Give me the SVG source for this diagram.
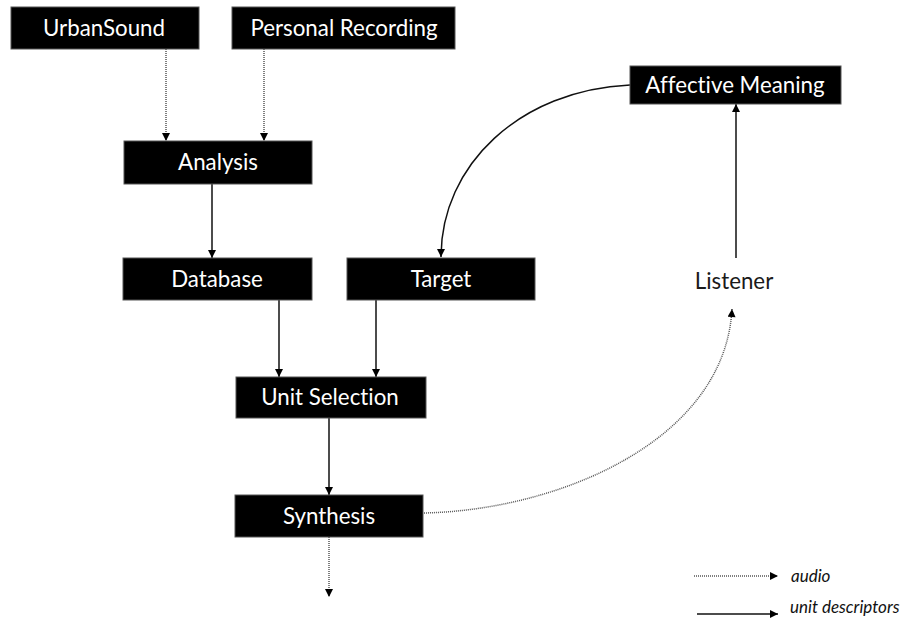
<svg xmlns="http://www.w3.org/2000/svg" width="903" height="620" viewBox="0 0 903 620">
<style>
  .box { fill: #000; stroke: #555; stroke-width: 1; }
  .lbl { font-family: Lato, "Liberation Sans", sans-serif; font-size: 22.3px; fill: #fff; text-anchor: middle; font-variant-ligatures: none; }
  .plain { font-family: Lato, "Liberation Sans", sans-serif; font-size: 22.3px; fill: #1a1a1a; text-anchor: middle; }
  .leg { font-family: Lato, "Liberation Sans", sans-serif; font-size: 17px; font-style: italic; fill: #111; }
  .solid { fill: none; stroke: #111; stroke-width: 1.5; marker-end: url(#ah); }
  .dot { fill: none; stroke: #555; stroke-width: 1.5; stroke-dasharray: 1 1; marker-end: url(#ah); }
</style>
<defs>
  <marker id="ah" viewBox="0 0 10 10" refX="10" refY="5" markerWidth="9" markerHeight="8" markerUnits="userSpaceOnUse" orient="auto">
    <path d="M0,0 L10,5 L0,10 Z" fill="#000"/>
  </marker>
</defs>
<rect width="903" height="620" fill="#fff"/>
<g id="connectors">
  <path class="dot" d="M166,49 L166,141"/>
  <path class="dot" d="M264,49 L264,141"/>
  <path class="solid" d="M212,184 L212,258"/>
  <path class="solid" d="M279,300 L279,377"/>
  <path class="solid" d="M376,300 L376,377"/>
  <path class="solid" d="M329,418 L329,495"/>
  <path class="dot" d="M329,537 L329,597"/>
  <path class="dot" d="M424,513 C560,510 725,440 732,309"/>
  <path class="solid" d="M736,258 L736,104"/>
  <path class="solid" d="M630,85 C520,90 441,165 441,257"/>
</g>
<g id="urbansound"><rect class="box" x="11" y="7" width="188" height="42"/><text class="lbl" x="104" y="36">UrbanSound</text></g>
<g id="personal-recording"><rect class="box" x="232" y="7" width="223" height="42"/><text class="lbl" x="344" y="36">Personal Recording</text></g>
<g id="analysis"><rect class="box" x="124" y="141" width="188" height="43"/><text class="lbl" x="218" y="170">Analysis</text></g>
<g id="database"><rect class="box" x="123" y="258" width="189" height="42"/><text class="lbl" x="217" y="287">Database</text></g>
<g id="target"><rect class="box" x="347" y="258" width="188" height="42"/><text class="lbl" x="441" y="287">Target</text></g>
<g id="unit-selection"><rect class="box" x="236" y="377" width="190" height="41"/><text class="lbl" x="330" y="405">Unit Selection</text></g>
<g id="synthesis"><rect class="box" x="235" y="495" width="188" height="42"/><text class="lbl" x="329" y="524">Synthesis</text></g>
<g id="affective-meaning"><rect class="box" x="630" y="66" width="211" height="38"/><text class="lbl" x="735" y="93">Affective Meaning</text></g>
<g id="listener"><text class="plain" x="734" y="289">Listener</text></g>
<g id="legend">
  <path class="dot" d="M694,576 L778,576"/>
  <text class="leg" x="791" y="582">audio</text>
  <path class="solid" d="M697,614 L778,614"/>
  <text class="leg" x="790" y="613">unit descriptors</text>
</g>
</svg>
